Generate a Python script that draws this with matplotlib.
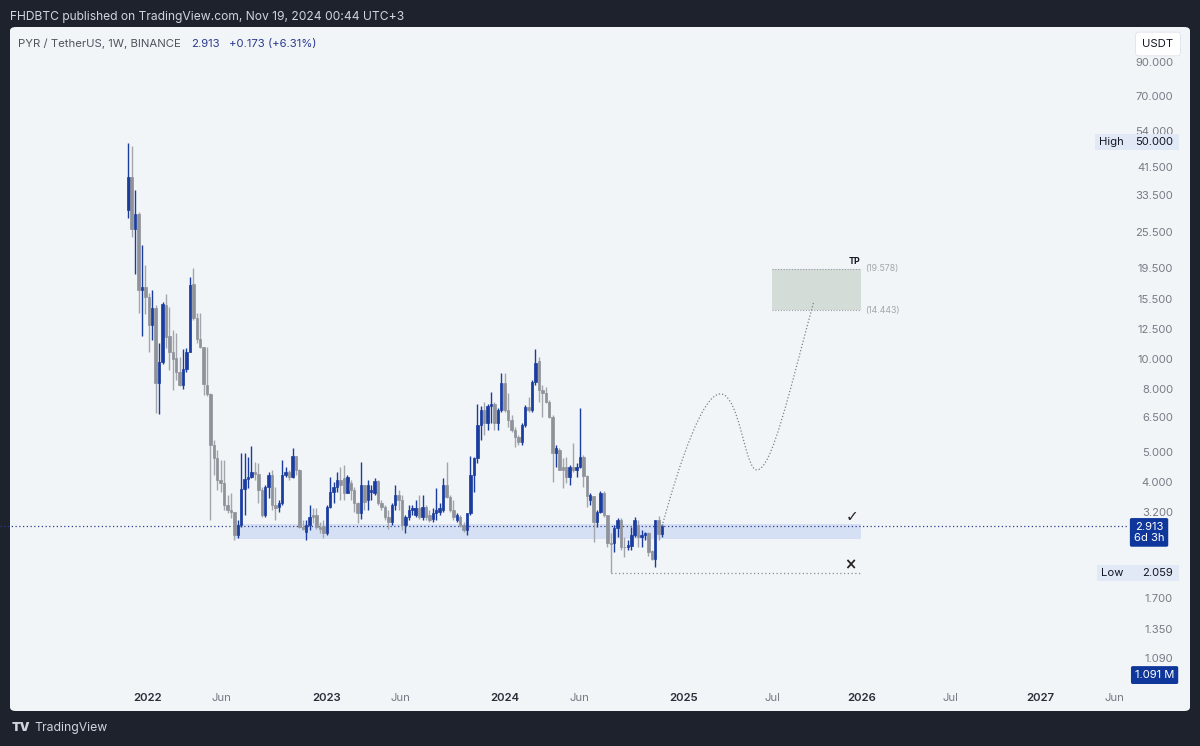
import numpy as np
import pandas as pd
import matplotlib
matplotlib.use('Agg')
import matplotlib.pyplot as plt
import matplotlib.dates as mdates
import matplotlib.transforms as mtrans
from matplotlib.patches import FancyBboxPatch, Rectangle, PathPatch
from matplotlib.path import Path

plt.rcParams['font.family'] = ['Inter', 'DejaVu Sans']

# ---------------- data ----------------
first_week = '2021-11-22'
opens = [30.3, 38.6, 26.3, 29.4, 16.7, 17.1, 15.9, 12.9, 14.7, 8.41,
         9.82, 15.0, 11.9, 10.6, 10.1, 9.1, 8.3, 9.3, 10.6, 17.5,
         13.6, 11.65, 10.95, 8.3, 7.75, 5.3, 4.83, 4.11, 4.0, 3.41,
         3.29, 3.24, 2.73, 2.94, 3.83, 4.13, 4.2, 4.35, 4.3, 3.81,
         3.17, 3.9, 4.26, 3.41, 3.36, 3.46, 4.26, 4.35, 4.2, 4.9,
         4.42, 2.89, 2.78, 2.94, 3.17, 3.17, 2.9, 2.92, 2.76, 3.36,
         3.76, 3.9, 4.11, 4.17, 3.73, 4.0, 3.81, 3.46, 3.2, 3.96,
         3.54, 3.76, 3.73, 4.08, 3.46, 3.36, 3.12, 3.0, 3.41, 3.68,
         3.54, 2.94, 3.12, 3.29, 3.17, 3.34, 3.12, 3.36, 3.17, 3.08,
         3.2, 3.24, 3.29, 3.96, 3.62, 3.29, 3.05, 3.12, 2.94, 2.84,
         3.2, 4.26, 4.83, 6.17, 6.89, 6.26, 7.1, 7.2, 6.26, 6.89,
         8.41, 6.89, 6.4, 5.94, 5.64, 5.44, 6.17, 7.05, 6.89, 8.47,
         9.9, 7.99, 7.82, 7.3, 6.54, 5.0, 5.13, 4.52, 4.52, 4.2,
         4.52, 4.42, 4.52, 4.87, 4.23, 3.54, 3.63, 3.0, 3.24, 3.73,
         3.17, 2.57, 2.57, 2.88, 3.05, 2.5, 2.49, 2.52, 2.73, 2.94,
         2.69, 2.73, 2.77, 2.42, 2.29, 3.05, 2.74]
highs = [49.8, 48.5, 35.1, 29.8, 23.4, 20.1, 16.4, 16.7, 15.0, 11.3,
         15.3, 16.3, 14.8, 12.45, 12.2, 10.2, 10.8, 10.9, 18.4, 19.7,
         14.1, 14.1, 10.95, 10.95, 7.8, 5.51, 5.13, 4.76, 4.76, 3.68,
         3.73, 3.24, 3.05, 5.0, 5.0, 4.87, 5.27, 4.68, 4.64, 3.9,
         3.96, 4.35, 4.42, 3.9, 3.54, 4.76, 4.52, 4.42, 5.2, 4.9,
         4.45, 3.05, 3.05, 3.41, 3.34, 3.34, 3.0, 3.05, 3.41, 4.2,
         4.05, 4.35, 4.52, 4.59, 4.26, 4.11, 3.9, 3.49, 4.68, 3.96,
         4.11, 3.96, 4.17, 4.11, 3.54, 3.41, 3.29, 3.46, 3.96, 3.81,
         3.68, 3.17, 3.41, 3.41, 3.54, 3.68, 3.68, 3.41, 3.29, 3.34,
         3.87, 3.46, 4.17, 4.68, 3.68, 3.54, 3.2, 3.17, 3.0, 3.2,
         4.9, 4.87, 7.2, 7.1, 7.3, 7.2, 7.87, 7.3, 7.0, 9.05,
         9.05, 7.82, 6.64, 6.08, 5.73, 6.26, 7.15, 7.6, 8.6, 10.8,
         10.2, 8.29, 8.17, 7.42, 6.64, 5.32, 5.2, 4.83, 4.87, 4.59,
         5.4, 4.66, 7.0, 4.94, 4.26, 3.73, 3.63, 3.29, 3.78, 3.78,
         3.17, 2.77, 2.94, 3.1, 3.1, 2.69, 2.63, 2.9, 3.12, 3.05,
         2.84, 2.8, 2.8, 2.45, 3.05, 3.15, 2.95]
lows = [28.6, 24.8, 18.9, 14.1, 11.9, 14.0, 10.55, 11.56, 6.73, 6.68,
        9.68, 10.9, 9.25, 7.98, 8.6, 8.2, 8.05, 9.1, 10.55, 13.4,
        11.3, 10.9, 7.7, 7.65, 3.05, 4.26, 3.81, 3.74, 3.29, 3.2,
        3.1, 2.63, 2.67, 2.9, 3.17, 3.87, 4.17, 4.11, 3.47, 3.12,
        3.12, 3.6, 3.29, 3.05, 3.24, 3.41, 4.2, 4.11, 4.17, 4.26,
        2.87, 2.84, 2.63, 2.84, 2.99, 2.86, 2.76, 2.67, 2.73, 3.34,
        3.47, 3.76, 3.54, 3.54, 3.72, 3.54, 3.24, 2.99, 3.08, 3.29,
        3.29, 3.54, 3.68, 3.41, 3.29, 3.05, 2.86, 2.94, 3.29, 3.29,
        2.84, 2.76, 3.05, 3.17, 3.12, 3.08, 3.05, 3.05, 3.0, 3.0,
        3.05, 3.17, 3.24, 3.59, 3.24, 3.05, 3.0, 2.9, 2.78, 2.73,
        3.17, 3.76, 4.66, 5.52, 5.73, 5.94, 6.26, 5.94, 5.94, 6.79,
        6.79, 6.08, 5.85, 5.25, 5.32, 5.32, 6.08, 6.79, 6.79, 8.29,
        7.3, 6.54, 7.26, 6.5, 4.05, 4.52, 4.42, 3.87, 4.0, 3.96,
        4.35, 4.2, 4.49, 3.9, 3.36, 3.41, 2.59, 2.9, 3.22, 3.12,
        2.5, 2.059, 2.4, 2.69, 2.45, 2.31, 2.45, 2.45, 2.69, 2.5,
        2.5, 2.63, 2.33, 2.27, 2.16, 2.63, 2.69]
closes = [38.6, 26.3, 29.4, 16.8, 17.1, 15.9, 12.9, 14.7, 8.41, 9.82,
          15.1, 11.8, 10.55, 10.05, 9.1, 8.3, 9.3, 10.6, 17.35, 13.6,
          11.65, 10.95, 8.35, 7.75, 5.3, 4.83, 4.11, 4.0, 3.41, 3.29,
          3.24, 2.73, 2.94, 3.83, 4.13, 4.2, 4.35, 4.29, 3.81, 3.17,
          3.9, 4.26, 3.41, 3.34, 3.46, 4.26, 4.35, 4.2, 4.9, 4.42,
          2.89, 2.86, 2.94, 3.12, 3.12, 2.9, 2.86, 2.76, 3.36, 3.76,
          3.9, 4.11, 3.96, 3.73, 4.2, 3.81, 3.46, 3.2, 3.96, 3.49,
          3.96, 3.81, 4.08, 3.46, 3.36, 3.12, 3.0, 3.41, 3.68, 3.54,
          2.94, 3.12, 3.29, 3.34, 3.34, 3.12, 3.36, 3.12, 3.05, 3.2,
          3.29, 3.34, 3.96, 3.62, 3.29, 3.12, 3.17, 2.94, 2.84, 3.2,
          4.26, 4.83, 6.17, 6.89, 6.26, 7.1, 7.2, 6.26, 6.89, 8.41,
          6.89, 6.4, 5.94, 5.64, 5.44, 6.17, 7.05, 6.89, 8.47, 9.75,
          7.99, 7.82, 7.3, 6.54, 5.0, 5.2, 4.42, 4.42, 4.2, 4.52,
          4.42, 4.52, 4.87, 4.23, 3.63, 3.68, 3.0, 3.24, 3.73, 3.17,
          2.57, 2.56, 2.88, 3.05, 2.49, 2.49, 2.54, 2.73, 3.05, 2.69,
          2.73, 2.77, 2.4, 2.29, 3.05, 2.74, 2.913]

last_price = 2.913
high_price = 50.0
low_price = 2.059
low_week_index = 141
price_ticks = [90, 70, 54, 41.5, 33.5, 25.5, 19.5, 15.5, 12.5, 10, 8, 6.5,
               5, 4, 3.2, 1.7, 1.35, 1.09]
time_ticks = ['2022-01-01', '2022-06-01', '2023-01-01', '2023-06-01',
              '2024-01-01', '2024-06-01', '2025-01-01', '2025-07-01',
              '2026-01-01', '2026-07-01', '2027-01-01', '2027-06-01']
time_labels = ['2022', 'Jun', '2023', 'Jun', '2024', 'Jun', '2025', 'Jul',
               '2026', 'Jul', '2027', 'Jun']

# drawings
zone_start, zone_end = '2022-06-27', '2025-12-29'
zone_low, zone_high = 2.65, 2.96
tp_start, tp_end = '2025-07-01', '2025-12-29'
tp_low, tp_high = 14.443, 19.578
path_dates = ['2024-11-18', '2024-12-25', '2025-02-10', '2025-03-17',
              '2025-04-26', '2025-05-06', '2025-05-31',
              '2025-07-01', '2025-08-06', '2025-09-24']
path_prices = [2.913, 4.76, 7.76, 7.76, 7.76, 4.42, 4.42, 4.42, 7.99, 15.3]

x_range = ('2021-03-25', '2027-11-03')
y_range = (0.741, 117.5)

# ---------------- figure ----------------
W, H = 1200, 746
fig = plt.figure(figsize=(W / 100, H / 100), dpi=100, facecolor='#1e222d')

panel = FancyBboxPatch((10 / W, 1 - 711 / H), 1180 / W, 684 / H,
                       boxstyle='round,pad=0,rounding_size=0.005',
                       transform=fig.transFigure, fc='#f2f5f7', ec='none',
                       zorder=-10)
fig.patches.append(panel)

ax = fig.add_axes([10 / W, 1 - 711 / H, 1180 / W, 684 / H])
ax.set_zorder(5)
ax.set_facecolor('none')
ax.set_yscale('log')
ax.set_xlim(mdates.datestr2num(x_range[0]), mdates.datestr2num(x_range[1]))
ax.set_ylim(*y_range)
ax.axis('off')

dates = pd.date_range(first_week, periods=len(opens), freq='7D')
xd = mdates.date2num(dates)
o = np.array(opens); h = np.array(highs); l = np.array(lows); c = np.array(closes)
up = c >= o
UP, DOWN = '#1b3c9f', '#8f9299'
cols = np.where(up, UP, DOWN)
wick_cols = np.where(up, UP, '#a3a6ac')

# zone
zs, ze = mdates.datestr2num(zone_start), mdates.datestr2num(zone_end)
ax.add_patch(Rectangle((zs, zone_low), ze - zs, zone_high - zone_low,
                       fc='#d6e0f4', ec='none', zorder=1))

# candles
ax.vlines(xd, l, h, colors=wick_cols, lw=1.0, zorder=3)
bottoms = np.minimum(o, c)
heights = np.abs(c - o)
ax.bar(xd, heights, width=5.0, bottom=bottoms, color=cols, edgecolor=cols,
       lw=0.5, zorder=4)

# last price line (runs to the left edge of the picture)
blend_xa = mtrans.blended_transform_factory(ax.transAxes, ax.transData)
ax.plot([-0.0085, 0.9466], [last_price, last_price], transform=blend_xa,
        color='#2b3d8f', ls=(0, (1, 2)), lw=0.9, zorder=2, clip_on=False)

# low line
ax.hlines(low_price, xd[low_week_index], ze, colors='#8a8d94',
          linestyles=(0, (1, 2)), lw=0.9, zorder=2)

# TP box
ts, te = mdates.datestr2num(tp_start), mdates.datestr2num(tp_end)
ax.add_patch(Rectangle((ts, tp_low), te - ts, tp_high - tp_low,
                       fc='#d4dcd7', ec='none', zorder=1))
ax.hlines([tp_low, tp_high], ts, te, colors='#9a9da3',
          linestyles=(0, (1, 1.5)), lw=0.8, zorder=2)
ax.text(te - 1, tp_high * 1.02, 'TP', ha='right', va='bottom', fontsize=6.3,
        fontweight='bold', color='#131722')
ax.text(te + 9, tp_high, f'({tp_high:.3f})', ha='left', va='center',
        fontsize=6.3, color='#a3a6ad')
ax.text(te + 9, tp_low, f'({tp_low:.3f})', ha='left', va='center',
        fontsize=6.3, color='#a3a6ad')

# check and cross
ax.text(te - 5, zone_high * 1.055, '✓', ha='right', va='center',
        fontsize=11, color='#222', family=['DejaVu Sans'])
ax.text(te - 8, low_price * 1.065, '×', ha='right', va='center',
        fontsize=10.5, fontweight='bold', color='#222', family=['DejaVu Sans'])

# projection path
pv = np.column_stack([mdates.datestr2num(path_dates), path_prices])
codes = [Path.MOVETO] + [Path.CURVE4] * 9
ax.add_patch(PathPatch(Path(pv, codes), fc='none', ec='#7d8087',
                       ls=(0, (1, 1.6)), lw=0.9, zorder=5))

# price axis labels
for p in price_ticks:
    ax.text(0.9856, p, f'{p:.3f}', transform=blend_xa, ha='right',
            va='center', fontsize=8.1, color='#787b86', zorder=6)

# High / Low labels on a shared light box
lab_bg = '#e1e9f7'
half = 1.062
for val, name, x0 in [(high_price, 'High', 0.9195), (low_price, 'Low', 0.9212)]:
    ax.add_patch(Rectangle((x0, val / half), 0.9907 - x0,
                           val * half - val / half, transform=blend_xa,
                           fc=lab_bg, ec='none', zorder=6.5))
    ax.text(x0 + 0.003, val, name, transform=blend_xa, ha='left',
            va='center', fontsize=8.1, color='#131722', zorder=7)
    ax.text(0.9856, val, f'{val:.3f}', transform=blend_xa, ha='right',
            va='center', fontsize=8.1, color='#131722', zorder=7)

ax.text(0.9653, last_price * 0.955, f'{last_price:.3f}\n6d 3h',
        transform=blend_xa, ha='center', va='center', fontsize=8.1,
        color='white', linespacing=1.1, zorder=7,
        bbox=dict(boxstyle='round,pad=0.35,rounding_size=0.15', fc='#0f379b',
                  ec='none'))
ax.text(0.9700, 0.967, '1.091 M', transform=blend_xa, ha='center',
        va='center', fontsize=8.1, color='white', zorder=7,
        bbox=dict(boxstyle='round,pad=0.35,rounding_size=0.15', fc='#0f379b',
                  ec='none'))

# time axis labels
blend_ax = mtrans.blended_transform_factory(ax.transData, ax.transAxes)
for d, t in zip(time_ticks, time_labels):
    is_year = t.isdigit()
    ax.text(mdates.datestr2num(d), 0.019, t, transform=blend_ax,
            ha='center', va='center', fontsize=8.2,
            color='#2a2e39' if is_year else '#787b86',
            fontweight='semibold' if is_year else 'normal')

# header and title
fig.text(10 / W, 1 - 17 / H,
         'FHDBTC published on TradingView.com, Nov 19, 2024 00:44 UTC+3',
         ha='left', va='center', fontsize=8.7, color='#d1d4dc')
fig.text(18 / W, 1 - 44 / H, 'PYR / TetherUS, 1W, BINANCE', ha='left',
         va='center', fontsize=8.2, color='#50535e')
fig.text(191 / W, 1 - 44 / H, f'{last_price:.3f}', ha='left', va='center',
         fontsize=8.2, color='#2a3b8f')
fig.text(229 / W, 1 - 44 / H, '+0.173 (+6.31%)', ha='left', va='center',
         fontsize=8.2, color='#2a3b8f')
fig.text(1158 / W, 1 - 44 / H, 'USDT', ha='center', va='center',
         fontsize=8.2, color='#131722',
         bbox=dict(boxstyle='round,pad=0.6,rounding_size=0.3', fc='white',
                   ec='#e0e3eb', lw=0.6))

# footer logo
fig.text(12 / W, 1 - 728 / H, 'TV', ha='left', va='center', fontsize=9,
         fontweight='black', color='#d1d4dc')
fig.text(34 / W, 1 - 728 / H, 'TradingView', ha='left', va='center',
         fontsize=8.8, color='#d1d4dc')

fig.savefig('out.png', dpi=100, facecolor=fig.get_facecolor())
